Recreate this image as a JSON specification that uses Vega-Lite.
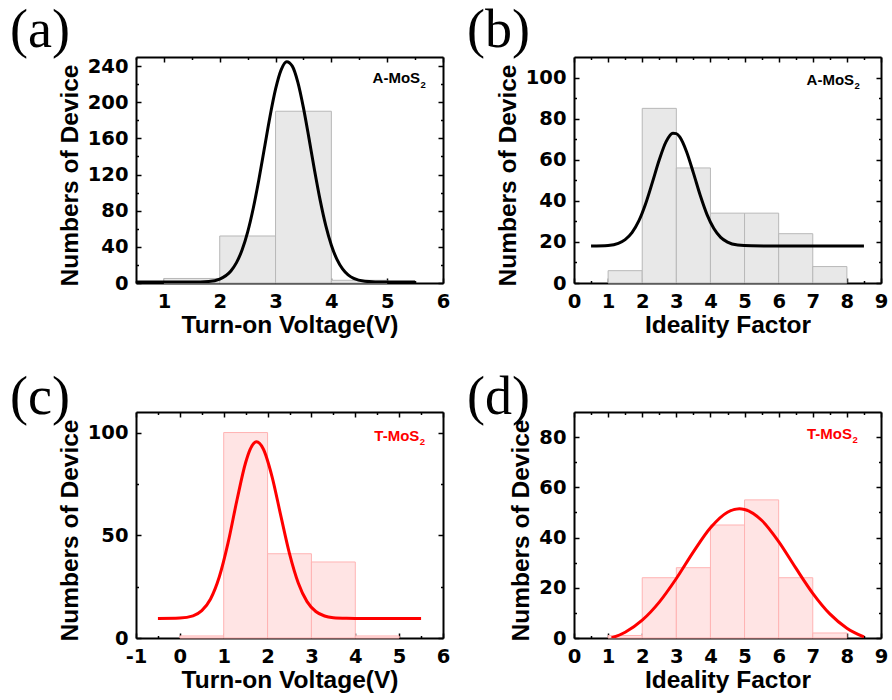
{
  "$schema": "https://vega.github.io/schema/vega-lite/v6.json",
  "background": "white",
  "padding": {"left": 10, "top": 4, "right": 5, "bottom": 5},
  "config": {
    "view": {"stroke": null},
    "font": "Liberation Sans",
    "style": {"guide-label": {"font": "DejaVu Sans", "fontWeight": "bold", "fontSize": 19.5, "fill": "black"}},
    "axis": {"domainColor": "black", "domainWidth": 2, "tickColor": "black", "tickWidth": 1.5, "labelFont": "DejaVu Sans", "labelFontSize": 19.5, "labelFontWeight": "bold", "labelColor": "black", "titleFont": "Liberation Sans", "titleFontSize": 24.5, "titleFontWeight": "bold", "titleColor": "black", "grid": false, "labelFlush": false, "labelOverlap": false, "labelBound": false},
    "title": {"font": "Liberation Serif", "fontSize": 54, "fontWeight": "normal", "anchor": "start", "frame": "group", "baseline": "alphabetic", "color": "black"}
  },
  "datasets": {
    "barsA": [{"start": 1, "end": 2, "count": 5}, {"start": 2, "end": 3, "count": 52}, {"start": 3, "end": 4, "count": 190}, {"start": 4, "end": 5, "count": 3}],
    "curveA": [{"v": 0.5, "n": 1}, {"v": 1.0, "n": 1}, {"v": 1.5, "n": 1.05}, {"v": 1.8, "n": 1.7}, {"v": 2.0, "n": 4.4}, {"v": 2.2, "n": 13.3}, {"v": 2.3, "n": 22.5}, {"v": 2.4, "n": 36.5}, {"v": 2.5, "n": 56.3}, {"v": 2.6, "n": 82.4}, {"v": 2.7, "n": 114}, {"v": 2.8, "n": 149}, {"v": 2.9, "n": 184}, {"v": 3.0, "n": 214.4}, {"v": 3.1, "n": 235.8}, {"v": 3.2, "n": 244.8}, {"v": 3.3, "n": 239.9}, {"v": 3.4, "n": 221.9}, {"v": 3.5, "n": 193.7}, {"v": 3.6, "n": 159.7}, {"v": 3.7, "n": 124.2}, {"v": 3.8, "n": 91.4}, {"v": 3.9, "n": 63.5}, {"v": 4.0, "n": 41.8}, {"v": 4.1, "n": 26.1}, {"v": 4.2, "n": 15.6}, {"v": 4.3, "n": 9.0}, {"v": 4.4, "n": 5.1}, {"v": 4.6, "n": 1.9}, {"v": 4.8, "n": 1.2}, {"v": 5.0, "n": 1.0}, {"v": 5.5, "n": 1.0}],
    "barsB": [{"start": 1, "end": 2, "count": 6}, {"start": 2, "end": 3, "count": 85}, {"start": 3, "end": 4, "count": 56}, {"start": 4, "end": 5, "count": 34}, {"start": 5, "end": 6, "count": 34}, {"start": 6, "end": 7, "count": 24}, {"start": 7, "end": 8, "count": 8}],
    "curveB": [{"v": 0.5, "n": 18}, {"v": 1.0, "n": 18.3}, {"v": 1.3, "n": 19.3}, {"v": 1.5, "n": 21.1}, {"v": 1.7, "n": 24.5}, {"v": 1.9, "n": 30.2}, {"v": 2.1, "n": 38.6}, {"v": 2.3, "n": 49.1}, {"v": 2.5, "n": 60.0}, {"v": 2.7, "n": 68.8}, {"v": 2.9, "n": 72.9}, {"v": 3.0, "n": 72.7}, {"v": 3.1, "n": 71.1}, {"v": 3.3, "n": 63.9}, {"v": 3.5, "n": 53.6}, {"v": 3.7, "n": 42.7}, {"v": 3.9, "n": 33.3}, {"v": 4.1, "n": 26.5}, {"v": 4.3, "n": 22.2}, {"v": 4.5, "n": 19.9}, {"v": 4.8, "n": 18.5}, {"v": 5.2, "n": 18.1}, {"v": 6.0, "n": 18}, {"v": 7.0, "n": 18}, {"v": 8.5, "n": 18}],
    "barsC": [{"start": 0, "end": 1, "count": 1}, {"start": 1, "end": 2, "count": 100}, {"start": 2, "end": 3, "count": 41}, {"start": 3, "end": 4, "count": 37}, {"start": 4, "end": 5, "count": 1}],
    "curveC": [{"v": -0.5, "n": 9.5}, {"v": 0.0, "n": 9.7}, {"v": 0.3, "n": 10.8}, {"v": 0.5, "n": 13.3}, {"v": 0.7, "n": 19.0}, {"v": 0.9, "n": 29.8}, {"v": 1.1, "n": 46.4}, {"v": 1.3, "n": 66.9}, {"v": 1.5, "n": 85.4}, {"v": 1.6, "n": 91.7}, {"v": 1.75, "n": 95.5}, {"v": 1.9, "n": 92.1}, {"v": 2.1, "n": 78.7}, {"v": 2.3, "n": 59.7}, {"v": 2.5, "n": 41.1}, {"v": 2.7, "n": 26.8}, {"v": 2.9, "n": 17.7}, {"v": 3.1, "n": 12.9}, {"v": 3.3, "n": 10.7}, {"v": 3.5, "n": 9.9}, {"v": 3.8, "n": 9.6}, {"v": 4.2, "n": 9.5}, {"v": 5.5, "n": 9.5}],
    "barsD": [{"start": 1, "end": 2, "count": 1}, {"start": 2, "end": 3, "count": 24}, {"start": 3, "end": 4, "count": 28}, {"start": 4, "end": 5, "count": 45}, {"start": 5, "end": 6, "count": 55}, {"start": 6, "end": 7, "count": 24}, {"start": 7, "end": 8, "count": 2}],
    "curveD": [{"v": 1.1, "n": 0}, {"v": 1.5, "n": 2.3}, {"v": 2.0, "n": 7.1}, {"v": 2.5, "n": 14.3}, {"v": 3.0, "n": 23.7}, {"v": 3.5, "n": 34.3}, {"v": 4.0, "n": 43.9}, {"v": 4.5, "n": 50.1}, {"v": 4.85, "n": 51.5}, {"v": 5.0, "n": 51.2}, {"v": 5.5, "n": 46.9}, {"v": 6.0, "n": 38.4}, {"v": 6.5, "n": 27.9}, {"v": 7.0, "n": 17.8}, {"v": 7.5, "n": 9.6}, {"v": 8.0, "n": 3.9}, {"v": 8.5, "n": 0.4}],
    "labelA": [{"label": "A-MoS", "sub": "2"}],
    "labelT": [{"label": "T-MoS", "sub": "2"}]
  },
  "bounds": "flush",
  "columns": 2,
  "spacing": {"row": 129, "column": 131},
  "concat": [
    {
      "width": 307, "height": 226,
      "title": {"text": "(a)", "dx": -126, "offset": -2},
      "resolve": {"axis": {"x": "independent", "y": "independent"}},
      "layer": [
        {"data": {"name": "barsA"}, "mark": {"type": "rect", "fill": "#e8e8e8", "stroke": "#b8b8b8", "strokeWidth": 1},
         "encoding": {
           "x": {"field": "start", "type": "quantitative", "scale": {"domain": [0.5, 6], "nice": false, "zero": false}, "axis": {"orient": "bottom", "values": [1, 2, 3, 4, 5, 6], "tickSize": -5, "labelPadding": 14, "title": "Turn-on Voltage(V)", "titlePadding": 3}},
           "x2": {"field": "end"},
           "y": {"field": "count", "type": "quantitative", "scale": {"domain": [0, 250], "nice": false, "zero": false}, "axis": {"orient": "left", "values": [0, 40, 80, 120, 160, 200, 240], "tickSize": -5, "labelPadding": 13, "title": "Numbers of Device", "titlePadding": 5, "titleY": 118}},
           "y2": {"datum": 0}
         }},
        {"data": {"name": "curveA"}, "mark": {"type": "line", "color": "black", "strokeWidth": 3, "interpolate": "monotone", "clip": true},
         "encoding": {
           "x": {"field": "v", "type": "quantitative", "scale": {"domain": [0.5, 6], "nice": false, "zero": false}, "axis": {"orient": "bottom", "values": [0.5, 1.5, 2.5, 3.5, 4.5, 5.5], "tickSize": -2.5, "labels": false, "domain": false, "title": null}},
           "y": {"field": "n", "type": "quantitative", "scale": {"domain": [0, 250], "nice": false, "zero": false}, "axis": {"orient": "left", "values": [20, 60, 100, 140, 180, 220], "tickSize": -2.5, "labels": false, "domain": false, "title": null}}
         }},
        {"data": {"name": "curveA"}, "mark": {"type": "point", "opacity": 0},
         "encoding": {
           "x": {"field": "v", "type": "quantitative", "scale": {"domain": [0.5, 6], "nice": false, "zero": false}, "axis": {"orient": "top", "values": [1, 2, 3, 4, 5, 6], "tickSize": -5, "labels": false, "title": null}},
           "y": {"field": "n", "type": "quantitative", "scale": {"domain": [0, 250], "nice": false, "zero": false}, "axis": {"orient": "right", "values": [0, 40, 80, 120, 160, 200, 240], "tickSize": -5, "labels": false, "title": null}}
         }},
        {"data": {"name": "curveA"}, "mark": {"type": "point", "opacity": 0},
         "encoding": {
           "x": {"field": "v", "type": "quantitative", "scale": {"domain": [0.5, 6], "nice": false, "zero": false}, "axis": {"orient": "top", "values": [0.5, 1.5, 2.5, 3.5, 4.5, 5.5], "tickSize": -2.5, "labels": false, "domain": false, "title": null}},
           "y": {"field": "n", "type": "quantitative", "scale": {"domain": [0, 250], "nice": false, "zero": false}, "axis": {"orient": "right", "values": [20, 60, 100, 140, 180, 220], "tickSize": -2.5, "labels": false, "domain": false, "title": null}}
         }},
        {"data": {"name": "labelA"}, "mark": {"type": "text", "align": "right", "baseline": "alphabetic", "font": "Liberation Sans", "fontWeight": "bold", "fontSize": 15, "color": "black"},
         "encoding": {
           "x": {"datum": 5.59, "type": "quantitative", "scale": {"domain": [0.5, 6], "nice": false, "zero": false}, "axis": null},
           "y": {"datum": 221, "type": "quantitative", "scale": {"domain": [0, 250], "nice": false, "zero": false}, "axis": null},
           "text": {"field": "label"}
         }},
        {"data": {"name": "labelA"}, "mark": {"type": "text", "align": "left", "baseline": "alphabetic", "font": "Liberation Sans", "fontWeight": "bold", "fontSize": 9.5, "color": "black", "dx": 0.5, "dy": 4.3},
         "encoding": {
           "x": {"datum": 5.59, "type": "quantitative", "scale": {"domain": [0.5, 6], "nice": false, "zero": false}, "axis": null},
           "y": {"datum": 221, "type": "quantitative", "scale": {"domain": [0, 250], "nice": false, "zero": false}, "axis": null},
           "text": {"field": "sub"}
         }}
      ]
    },
    {
      "width": 307, "height": 226,
      "title": {"text": "(b)", "dx": -107, "offset": -2},
      "resolve": {"axis": {"x": "independent", "y": "independent"}},
      "layer": [
        {"data": {"name": "barsB"}, "mark": {"type": "rect", "fill": "#e8e8e8", "stroke": "#b8b8b8", "strokeWidth": 1},
         "encoding": {
           "x": {"field": "start", "type": "quantitative", "scale": {"domain": [0, 9], "nice": false, "zero": false}, "axis": {"orient": "bottom", "values": [0, 1, 2, 3, 4, 5, 6, 7, 8, 9], "tickSize": -5, "labelPadding": 14, "title": "Ideality Factor", "titlePadding": 3}},
           "x2": {"field": "end"},
           "y": {"field": "count", "type": "quantitative", "scale": {"domain": [0, 110], "nice": false, "zero": false}, "axis": {"orient": "left", "values": [0, 20, 40, 60, 80, 100], "tickSize": -5, "labelPadding": 13, "title": "Numbers of Device", "titlePadding": 5, "titleY": 118}},
           "y2": {"datum": 0}
         }},
        {"data": {"name": "curveB"}, "mark": {"type": "line", "color": "black", "strokeWidth": 3, "interpolate": "monotone", "clip": true},
         "encoding": {
           "x": {"field": "v", "type": "quantitative", "scale": {"domain": [0, 9], "nice": false, "zero": false}, "axis": {"orient": "bottom", "values": [0.5, 1.5, 2.5, 3.5, 4.5, 5.5, 6.5, 7.5, 8.5], "tickSize": -2.5, "labels": false, "domain": false, "title": null}},
           "y": {"field": "n", "type": "quantitative", "scale": {"domain": [0, 110], "nice": false, "zero": false}, "axis": {"orient": "left", "values": [10, 30, 50, 70, 90], "tickSize": -2.5, "labels": false, "domain": false, "title": null}}
         }},
        {"data": {"name": "curveB"}, "mark": {"type": "point", "opacity": 0},
         "encoding": {
           "x": {"field": "v", "type": "quantitative", "scale": {"domain": [0, 9], "nice": false, "zero": false}, "axis": {"orient": "top", "values": [0, 1, 2, 3, 4, 5, 6, 7, 8, 9], "tickSize": -5, "labels": false, "title": null}},
           "y": {"field": "n", "type": "quantitative", "scale": {"domain": [0, 110], "nice": false, "zero": false}, "axis": {"orient": "right", "values": [0, 20, 40, 60, 80, 100], "tickSize": -5, "labels": false, "title": null}}
         }},
        {"data": {"name": "curveB"}, "mark": {"type": "point", "opacity": 0},
         "encoding": {
           "x": {"field": "v", "type": "quantitative", "scale": {"domain": [0, 9], "nice": false, "zero": false}, "axis": {"orient": "top", "values": [0.5, 1.5, 2.5, 3.5, 4.5, 5.5, 6.5, 7.5, 8.5], "tickSize": -2.5, "labels": false, "domain": false, "title": null}},
           "y": {"field": "n", "type": "quantitative", "scale": {"domain": [0, 110], "nice": false, "zero": false}, "axis": {"orient": "right", "values": [10, 30, 50, 70, 90], "tickSize": -2.5, "labels": false, "domain": false, "title": null}}
         }},
        {"data": {"name": "labelA"}, "mark": {"type": "text", "align": "right", "baseline": "alphabetic", "font": "Liberation Sans", "fontWeight": "bold", "fontSize": 15, "color": "black"},
         "encoding": {
           "x": {"datum": 8.21, "type": "quantitative", "scale": {"domain": [0, 9], "nice": false, "zero": false}, "axis": null},
           "y": {"datum": 96.3, "type": "quantitative", "scale": {"domain": [0, 110], "nice": false, "zero": false}, "axis": null},
           "text": {"field": "label"}
         }},
        {"data": {"name": "labelA"}, "mark": {"type": "text", "align": "left", "baseline": "alphabetic", "font": "Liberation Sans", "fontWeight": "bold", "fontSize": 9.5, "color": "black", "dx": 0.5, "dy": 4.3},
         "encoding": {
           "x": {"datum": 8.21, "type": "quantitative", "scale": {"domain": [0, 9], "nice": false, "zero": false}, "axis": null},
           "y": {"datum": 96.3, "type": "quantitative", "scale": {"domain": [0, 110], "nice": false, "zero": false}, "axis": null},
           "text": {"field": "sub"}
         }}
      ]
    },
    {
      "width": 307, "height": 226,
      "title": {"text": "(c)", "dx": -126, "offset": -14},
      "resolve": {"axis": {"x": "independent", "y": "independent"}},
      "layer": [
        {"data": {"name": "barsC"}, "mark": {"type": "rect", "fill": "#ffe4e4", "stroke": "#ffb3b3", "strokeWidth": 1},
         "encoding": {
           "x": {"field": "start", "type": "quantitative", "scale": {"domain": [-1, 6], "nice": false, "zero": false}, "axis": {"orient": "bottom", "values": [-1, 0, 1, 2, 3, 4, 5, 6], "labelExpr": "replace(datum.label, '\u2212', '-')", "tickSize": -5, "labelPadding": 14, "title": "Turn-on Voltage(V)", "titlePadding": 3}},
           "x2": {"field": "end"},
           "y": {"field": "count", "type": "quantitative", "scale": {"domain": [0, 110], "nice": false, "zero": false}, "axis": {"orient": "left", "values": [0, 50, 100], "tickSize": -5, "labelPadding": 13, "title": "Numbers of Device", "titlePadding": 5, "titleY": 118}},
           "y2": {"datum": 0}
         }},
        {"data": {"name": "curveC"}, "mark": {"type": "line", "color": "#ff0000", "strokeWidth": 3, "interpolate": "monotone", "clip": true},
         "encoding": {
           "x": {"field": "v", "type": "quantitative", "scale": {"domain": [-1, 6], "nice": false, "zero": false}, "axis": {"orient": "bottom", "values": [-0.5, 0.5, 1.5, 2.5, 3.5, 4.5, 5.5], "tickSize": -2.5, "labels": false, "domain": false, "title": null}},
           "y": {"field": "n", "type": "quantitative", "scale": {"domain": [0, 110], "nice": false, "zero": false}, "axis": {"orient": "left", "values": [25, 75], "tickSize": -2.5, "labels": false, "domain": false, "title": null}}
         }},
        {"data": {"name": "curveC"}, "mark": {"type": "point", "opacity": 0},
         "encoding": {
           "x": {"field": "v", "type": "quantitative", "scale": {"domain": [-1, 6], "nice": false, "zero": false}, "axis": {"orient": "top", "values": [-1, 0, 1, 2, 3, 4, 5, 6], "tickSize": -5, "labels": false, "title": null}},
           "y": {"field": "n", "type": "quantitative", "scale": {"domain": [0, 110], "nice": false, "zero": false}, "axis": {"orient": "right", "values": [0, 50, 100], "tickSize": -5, "labels": false, "title": null}}
         }},
        {"data": {"name": "curveC"}, "mark": {"type": "point", "opacity": 0},
         "encoding": {
           "x": {"field": "v", "type": "quantitative", "scale": {"domain": [-1, 6], "nice": false, "zero": false}, "axis": {"orient": "top", "values": [-0.5, 0.5, 1.5, 2.5, 3.5, 4.5, 5.5], "tickSize": -2.5, "labels": false, "domain": false, "title": null}},
           "y": {"field": "n", "type": "quantitative", "scale": {"domain": [0, 110], "nice": false, "zero": false}, "axis": {"orient": "right", "values": [25, 75], "tickSize": -2.5, "labels": false, "domain": false, "title": null}}
         }},
        {"data": {"name": "labelT"}, "mark": {"type": "text", "align": "right", "baseline": "alphabetic", "font": "Liberation Sans", "fontWeight": "bold", "fontSize": 15, "color": "#ff0000"},
         "encoding": {
           "x": {"datum": 5.46, "type": "quantitative", "scale": {"domain": [-1, 6], "nice": false, "zero": false}, "axis": null},
           "y": {"datum": 95.9, "type": "quantitative", "scale": {"domain": [0, 110], "nice": false, "zero": false}, "axis": null},
           "text": {"field": "label"}
         }},
        {"data": {"name": "labelT"}, "mark": {"type": "text", "align": "left", "baseline": "alphabetic", "font": "Liberation Sans", "fontWeight": "bold", "fontSize": 9.5, "color": "#ff0000", "dx": 0.5, "dy": 4.3},
         "encoding": {
           "x": {"datum": 5.46, "type": "quantitative", "scale": {"domain": [-1, 6], "nice": false, "zero": false}, "axis": null},
           "y": {"datum": 95.9, "type": "quantitative", "scale": {"domain": [0, 110], "nice": false, "zero": false}, "axis": null},
           "text": {"field": "sub"}
         }}
      ]
    },
    {
      "width": 307, "height": 226,
      "title": {"text": "(d)", "dx": -107, "offset": -14},
      "resolve": {"axis": {"x": "independent", "y": "independent"}},
      "layer": [
        {"data": {"name": "barsD"}, "mark": {"type": "rect", "fill": "#ffe4e4", "stroke": "#ffb3b3", "strokeWidth": 1},
         "encoding": {
           "x": {"field": "start", "type": "quantitative", "scale": {"domain": [0, 9], "nice": false, "zero": false}, "axis": {"orient": "bottom", "values": [0, 1, 2, 3, 4, 5, 6, 7, 8, 9], "tickSize": -5, "labelPadding": 14, "title": "Ideality Factor", "titlePadding": 3}},
           "x2": {"field": "end"},
           "y": {"field": "count", "type": "quantitative", "scale": {"domain": [0, 90], "nice": false, "zero": false}, "axis": {"orient": "left", "values": [0, 20, 40, 60, 80], "tickSize": -5, "labelPadding": 13, "title": "Numbers of Device", "titlePadding": 5, "titleY": 118}},
           "y2": {"datum": 0}
         }},
        {"data": {"name": "curveD"}, "mark": {"type": "line", "color": "#ff0000", "strokeWidth": 3, "interpolate": "monotone", "clip": true},
         "encoding": {
           "x": {"field": "v", "type": "quantitative", "scale": {"domain": [0, 9], "nice": false, "zero": false}, "axis": {"orient": "bottom", "values": [0.5, 1.5, 2.5, 3.5, 4.5, 5.5, 6.5, 7.5, 8.5], "tickSize": -2.5, "labels": false, "domain": false, "title": null}},
           "y": {"field": "n", "type": "quantitative", "scale": {"domain": [0, 90], "nice": false, "zero": false}, "axis": {"orient": "left", "values": [10, 30, 50, 70], "tickSize": -2.5, "labels": false, "domain": false, "title": null}}
         }},
        {"data": {"name": "curveD"}, "mark": {"type": "point", "opacity": 0},
         "encoding": {
           "x": {"field": "v", "type": "quantitative", "scale": {"domain": [0, 9], "nice": false, "zero": false}, "axis": {"orient": "top", "values": [0, 1, 2, 3, 4, 5, 6, 7, 8, 9], "tickSize": -5, "labels": false, "title": null}},
           "y": {"field": "n", "type": "quantitative", "scale": {"domain": [0, 90], "nice": false, "zero": false}, "axis": {"orient": "right", "values": [0, 20, 40, 60, 80], "tickSize": -5, "labels": false, "title": null}}
         }},
        {"data": {"name": "curveD"}, "mark": {"type": "point", "opacity": 0},
         "encoding": {
           "x": {"field": "v", "type": "quantitative", "scale": {"domain": [0, 9], "nice": false, "zero": false}, "axis": {"orient": "top", "values": [0.5, 1.5, 2.5, 3.5, 4.5, 5.5, 6.5, 7.5, 8.5], "tickSize": -2.5, "labels": false, "domain": false, "title": null}},
           "y": {"field": "n", "type": "quantitative", "scale": {"domain": [0, 90], "nice": false, "zero": false}, "axis": {"orient": "right", "values": [10, 30, 50, 70], "tickSize": -2.5, "labels": false, "domain": false, "title": null}}
         }},
        {"data": {"name": "labelT"}, "mark": {"type": "text", "align": "right", "baseline": "alphabetic", "font": "Liberation Sans", "fontWeight": "bold", "fontSize": 15, "color": "#ff0000"},
         "encoding": {
           "x": {"datum": 8.15, "type": "quantitative", "scale": {"domain": [0, 9], "nice": false, "zero": false}, "axis": null},
           "y": {"datum": 79.4, "type": "quantitative", "scale": {"domain": [0, 90], "nice": false, "zero": false}, "axis": null},
           "text": {"field": "label"}
         }},
        {"data": {"name": "labelT"}, "mark": {"type": "text", "align": "left", "baseline": "alphabetic", "font": "Liberation Sans", "fontWeight": "bold", "fontSize": 9.5, "color": "#ff0000", "dx": 0.5, "dy": 4.3},
         "encoding": {
           "x": {"datum": 8.15, "type": "quantitative", "scale": {"domain": [0, 9], "nice": false, "zero": false}, "axis": null},
           "y": {"datum": 79.4, "type": "quantitative", "scale": {"domain": [0, 90], "nice": false, "zero": false}, "axis": null},
           "text": {"field": "sub"}
         }}
      ]
    }
  ]
}
